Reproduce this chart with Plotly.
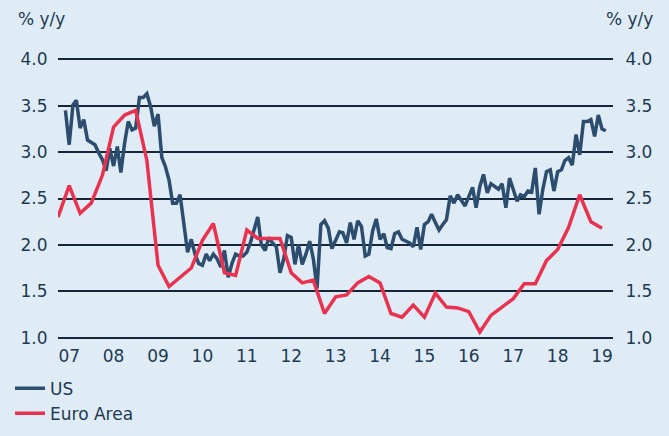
import pandas as pd
import plotly.graph_objects as go

# US inflation, monthly, Dec 2006 - Feb 2019 (% y/y)
us_values = [
    3.45,
    3.08, 3.51, 3.56, 3.26, 3.35, 3.13, 3.10, 3.08, 2.99, 2.92, 2.80, 3.04,
    2.85, 3.06, 2.78, 3.10, 3.33, 3.24, 3.26, 3.59, 3.59, 3.63, 3.49, 3.28,
    3.41, 2.94, 2.85, 2.70, 2.45, 2.45, 2.54, 2.20, 1.92, 2.06, 1.90, 1.80,
    1.78, 1.90, 1.83, 1.90, 1.85, 1.76, 1.94, 1.65, 1.80, 1.90, 1.88, 1.88,
    1.92, 2.03, 2.15, 2.30, 2.00, 1.94, 2.08, 2.02, 1.98, 1.70, 1.85, 2.10,
    2.08, 1.79, 2.00, 1.79, 1.90, 2.04, 1.85, 1.53, 2.22, 2.26, 2.18, 1.96,
    2.05, 2.14, 2.13, 2.02, 2.24, 2.06, 2.26, 2.20, 1.88, 1.90, 2.15, 2.28,
    2.06, 2.12, 1.97, 1.96, 2.12, 2.14, 2.06, 2.04, 2.02, 1.98, 2.19, 1.95,
    2.22, 2.25, 2.33, 2.24, 2.16, 2.22, 2.27, 2.53, 2.45, 2.54, 2.48, 2.42,
    2.52, 2.62, 2.40, 2.63, 2.76, 2.56, 2.66, 2.63, 2.60, 2.66, 2.40, 2.72,
    2.58, 2.47, 2.54, 2.52, 2.58, 2.57, 2.83, 2.33, 2.60, 2.79, 2.81, 2.58,
    2.79, 2.81, 2.91, 2.94, 2.86, 3.19, 2.97, 3.33, 3.33, 3.35, 3.17, 3.40,
    3.25, 3.23,
]
us_dates = pd.date_range("2006-12-01", periods=len(us_values), freq="MS")

# Euro Area inflation, quarterly, Q4 2006 - Q1 2019 (% y/y)
ea_values = [
    2.30, 2.64, 2.34, 2.45, 2.75, 3.27, 3.40, 3.45, 2.91, 1.78,
    1.55, 1.65, 1.75, 2.05, 2.23, 1.70, 1.67, 2.16, 2.07, 2.07,
    2.07, 1.70, 1.59, 1.62, 1.26, 1.44, 1.46, 1.59, 1.66, 1.59,
    1.26, 1.22, 1.35, 1.22, 1.48, 1.33, 1.32, 1.28, 1.06, 1.24,
    1.33, 1.42, 1.58, 1.58, 1.83, 1.95, 2.19, 2.54, 2.25, 2.18,
]
ea_dates = pd.date_range("2006-10-01", periods=len(ea_values), freq="3MS")

y_ticks = [1.0, 1.5, 2.0, 2.5, 3.0, 3.5, 4.0]
y_labels = ["1.0", "1.5", "2.0", "2.5", "3.0", "3.5", "4.0"]

bg = "#dfecf6"
txt = "#1e3a52"
font = "DejaVu Sans"

fig = go.Figure()
fig.add_trace(go.Scatter(x=us_dates, y=us_values, name="US", mode="lines",
                         line=dict(color="#2c4d6e", width=3.5)))
fig.add_trace(go.Scatter(x=ea_dates, y=ea_values, name="Euro Area", mode="lines",
                         line=dict(color="#e8324f", width=3.5)))
# invisible trace to carry the right axis
fig.add_trace(go.Scatter(x=[us_dates[0]], y=[y_ticks[0]], yaxis="y2", showlegend=False,
                         mode="markers", marker=dict(opacity=0), hoverinfo="skip"))

fig.update_layout(
    width=669, height=436,
    paper_bgcolor=bg, plot_bgcolor=bg,
    margin=dict(l=58, r=56, t=58, b=97, autoexpand=False),
    font=dict(family=font, color=txt, size=17),
    xaxis=dict(type="date", range=["2006-10-01", "2019-04-01"],
               tick0="2007-01-01", dtick="M12", tickformat="%y",
               showgrid=False, zeroline=False, showline=False,
               ticks="outside", ticklen=2, tickcolor=bg),
    yaxis=dict(range=[0.985, 4.015], tickvals=y_ticks, ticktext=y_labels,
               showgrid=True, gridcolor="#16263a", gridwidth=1.5,
               zeroline=False, showline=False,
               ticks="outside", ticklen=6, tickcolor=bg),
    yaxis2=dict(range=[0.985, 4.015], tickvals=y_ticks, ticktext=y_labels,
                overlaying="y", side="right", showgrid=False, zeroline=False,
                ticks="outside", ticklen=8, tickcolor=bg),
    legend=dict(xref="container", yref="container", x=0.015, y=0.15,
                xanchor="left", yanchor="top",
                bgcolor="rgba(0,0,0,0)", font=dict(size=17, color=txt),
                tracegroupgap=0, itemwidth=30),
    showlegend=True,
)

fig.add_annotation(text="% y/y", xref="paper", yref="paper", x=-0.075, y=1.14,
                   xanchor="left", yanchor="middle", showarrow=False,
                   font=dict(size=17, color=txt))
fig.add_annotation(text="% y/y", xref="paper", yref="paper", x=1.075, y=1.14,
                   xanchor="right", yanchor="middle", showarrow=False,
                   font=dict(size=17, color=txt))

# drop the default page margin so the chart sits flush in the window
fig.write_html("out.html", config={"displayModeBar": False},
               post_script="document.body.style.margin='0';")
